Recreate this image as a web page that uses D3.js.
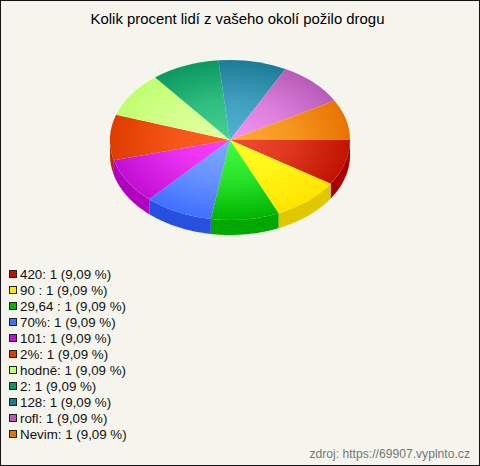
<!DOCTYPE html>
<html><head><meta charset="utf-8">
<script src="https://cdn.jsdelivr.net/npm/d3@7"></script>
<style>html,body{margin:0;padding:0;background:#f5f5ed}svg{display:block}text{font-family:"Liberation Sans",Arial,sans-serif}</style>
</head><body><script>
const titleText = "Kolik procent lidí z vašeho okolí požilo drogu";
const sourceText = "zdroj: https://69907.vyplnto.cz";
const categories = ["420","90 ","29,64 ","70%","101","2%","hodně","2","128","rofl","Nevim"];
const values = [1,1,1,1,1,1,1,1,1,1,1];
const percentLabels = ["9,09 %","9,09 %","9,09 %","9,09 %","9,09 %","9,09 %","9,09 %","9,09 %","9,09 %","9,09 %","9,09 %"];
const innerColors = ["#f24e34","#ffff24","#42ff42","#80a8ff","#ff40ff","#ff6424","#e4ffa4","#44d494","#54b4d4","#f494f4","#ffac34"];
const rimColors = ["#c01400","#ffe400","#00b400","#4070ff","#c010d4","#e03c00","#c0ff70","#0c9860","#1c7c98","#b85cb8","#e87400"];
const wallColors = ["#a80000","#e0c800","#00a800","#2850e0","#b000c0","#b83000","#a0d050","#087848","#106070","#904090","#c06000"];
const legendColors = ["#c01400","#ffe800","#00b400","#4070ff","#c010d4","#e03c00","#c0ff70","#0c9860","#1c7c98","#b85cb8","#e87400"];

const W=480,H=466,cx=230,cy=140,rx=120,ratio=2/3,depth=15;
const svg=d3.select("body").append("svg").attr("width",W).attr("height",H);
svg.append("rect").attr("x",.5).attr("y",.5).attr("width",W-1).attr("height",H-1).attr("fill","#f5f5ed").attr("stroke","#111");
svg.append("text").attr("x",237.5).attr("y",24).attr("text-anchor","middle").attr("font-size",14.9).attr("fill","#000").text(titleText);

const TAU=2*Math.PI, start=Math.PI/2;
const pie=d3.pie().sort(null).startAngle(0).endAngle(TAU);
// the source's 3D projection stretches the sweep slightly: all slices but the last are a little wider
const sweep=d3.scaleLinear().domain([0,TAU*10/11,TAU]).range([0,TAU*330.6/360,TAU]);
const arcs=pie(values).map(d=>({...d,startAngle:start+sweep(d.startAngle),endAngle:start+sweep(d.endAngle)}));
const arc=d3.arc().innerRadius(0).outerRadius(rx);
const defs=svg.append("defs");
arcs.forEach((d,i)=>{
  const g=defs.append("radialGradient").attr("id","g"+i).attr("gradientUnits","userSpaceOnUse")
    .attr("cx",0).attr("cy",0).attr("r",rx);
  g.append("stop").attr("offset",0).attr("stop-color",innerColors[i]);
  g.append("stop").attr("offset",0.5).attr("stop-color",d3.interpolateRgb(innerColors[i],rimColors[i])(0.38));
  g.append("stop").attr("offset",1).attr("stop-color",rimColors[i]);
});
const sx=a=>cx+rx*Math.sin(a), sy=a=>cy-rx*ratio*Math.cos(a);
const line=d3.line();
arcs.forEach((d,i)=>{
  const a0=Math.max(d.startAngle,Math.PI/2), a1=Math.min(d.endAngle,3*Math.PI/2);
  if(a1<=a0) return;
  const t=d3.scaleLinear().domain([0,40]).range([a0,a1]);
  const top=d3.range(41).map(k=>[sx(t(k)),sy(t(k))]);
  const bot=top.slice().reverse().map(p=>[p[0],p[1]+depth]);
  svg.append("path").attr("d",line(top.concat(bot))+"Z").attr("fill",wallColors[i]);
});
const face=svg.append("g").attr("transform",`translate(${cx},${cy}) scale(1,${ratio})`);
face.selectAll("path").data(arcs).join("path").attr("d",arc).attr("fill",(d,i)=>`url(#g${i})`);

const y0=274, step=16;
const leg=svg.append("g");
categories.forEach((c,i)=>{
  const y=y0+i*step;
  leg.append("rect").attr("x",9.5).attr("y",y-3.5).attr("width",7).attr("height",7).attr("fill",legendColors[i]).attr("stroke","#222");
  leg.append("text").attr("x",20).attr("y",y+5).attr("font-size",13.33).attr("fill","#111")
    .text(`${c}: ${values[i]} (${percentLabels[i]})`);
});
svg.append("text").attr("x",470).attr("y",458).attr("text-anchor","end").attr("font-size",12.15).attr("fill","#777").text(sourceText);
</script></body></html>
